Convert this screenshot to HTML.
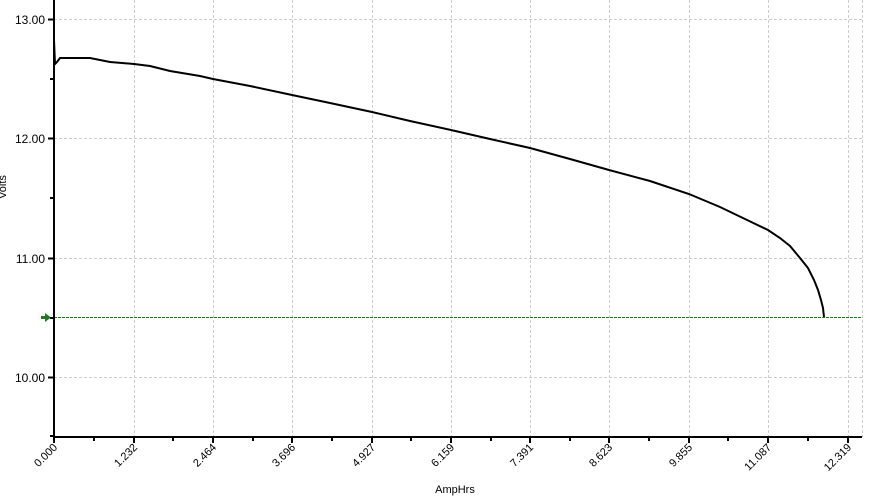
<!DOCTYPE html><html><head><style>body{margin:0;background:#fff}svg{display:block;font-family:"Liberation Sans",sans-serif}</style></head><body>
<svg width="869" height="496" xmlns="http://www.w3.org/2000/svg">
<g stroke="#ccc" stroke-dasharray="3,2" stroke-width="1">
<line x1="54" y1="19.5" x2="862" y2="19.5"/><line x1="54" y1="138.5" x2="862" y2="138.5"/><line x1="54" y1="258.5" x2="862" y2="258.5"/><line x1="54" y1="377.5" x2="862" y2="377.5"/>
<line x1="134.5" y1="0" x2="134.5" y2="437"/><line x1="213.5" y1="0" x2="213.5" y2="437"/><line x1="292.5" y1="0" x2="292.5" y2="437"/><line x1="372.5" y1="0" x2="372.5" y2="437"/><line x1="451.5" y1="0" x2="451.5" y2="437"/><line x1="530.5" y1="0" x2="530.5" y2="437"/><line x1="609.5" y1="0" x2="609.5" y2="437"/><line x1="689.5" y1="0" x2="689.5" y2="437"/><line x1="768.5" y1="0" x2="768.5" y2="437"/><line x1="848.5" y1="0" x2="848.5" y2="437"/><line x1="862.5" y1="0" x2="862.5" y2="437"/>
</g>
<line x1="54" y1="317.5" x2="862" y2="317.5" stroke="#1f7a1f" stroke-dasharray="3,1"/>
<polygon points="45,313 51,317.5 45,322" fill="#1f7a1f"/><line x1="41" y1="317.5" x2="47" y2="317.5" stroke="#1f7a1f" stroke-width="3"/>
<g stroke="#000" stroke-width="2">
<line x1="54" y1="0" x2="54" y2="438"/><line x1="53" y1="437" x2="862" y2="437"/>
<line x1="48" y1="19.5" x2="54" y2="19.5"/><line x1="50" y1="79" x2="54" y2="79"/><line x1="48" y1="138.5" x2="54" y2="138.5"/><line x1="50" y1="198" x2="54" y2="198"/><line x1="48" y1="258.5" x2="54" y2="258.5"/><line x1="50" y1="318" x2="54" y2="318"/><line x1="48" y1="377.5" x2="54" y2="377.5"/><line x1="50" y1="436" x2="54" y2="436"/>
<line x1="54" y1="437" x2="54" y2="443"/><line x1="94" y1="437" x2="94" y2="441"/><line x1="134" y1="437" x2="134" y2="443"/><line x1="173" y1="437" x2="173" y2="441"/><line x1="213" y1="437" x2="213" y2="443"/><line x1="253" y1="437" x2="253" y2="441"/><line x1="292" y1="437" x2="292" y2="443"/><line x1="332" y1="437" x2="332" y2="441"/><line x1="372" y1="437" x2="372" y2="443"/><line x1="411" y1="437" x2="411" y2="441"/><line x1="451" y1="437" x2="451" y2="443"/><line x1="491" y1="437" x2="491" y2="441"/><line x1="530" y1="437" x2="530" y2="443"/><line x1="570" y1="437" x2="570" y2="441"/><line x1="609" y1="437" x2="609" y2="443"/><line x1="649" y1="437" x2="649" y2="441"/><line x1="689" y1="437" x2="689" y2="443"/><line x1="728" y1="437" x2="728" y2="441"/><line x1="768" y1="437" x2="768" y2="443"/><line x1="808" y1="437" x2="808" y2="441"/><line x1="848" y1="437" x2="848" y2="443"/>
</g>
<polyline fill="none" stroke="#000" stroke-width="2" points="54,40 55,64 57,62 60,58 75,58 90,58 100,60 110,62 134,64 150,66 170,71 200,76 213,79 250,86 292,95 330,103 372,112 410,121 451,130 490,139 530,148 570,159 609,170 650,181 689,194 720,207 745,219 768,230 780,238 790,246 800,258 808,268 814,280 818,290 821,300 823,308 824,317"/>
<g font-size="12" fill="#000" text-anchor="end">
<text x="45" y="24">13.00</text><text x="45" y="143">12.00</text><text x="45" y="263">11.00</text><text x="45" y="382">10.00</text>
</g>
<g font-size="11" fill="#000" text-anchor="end">
<text transform="translate(58,448) rotate(-45)">0.000</text>
<text transform="translate(138,448) rotate(-45)">1.232</text>
<text transform="translate(217,448) rotate(-45)">2.464</text>
<text transform="translate(296,448) rotate(-45)">3.696</text>
<text transform="translate(376,448) rotate(-45)">4.927</text>
<text transform="translate(455,448) rotate(-45)">6.159</text>
<text transform="translate(534,448) rotate(-45)">7.391</text>
<text transform="translate(613,448) rotate(-45)">8.623</text>
<text transform="translate(693,448) rotate(-45)">9.855</text>
<text transform="translate(772,448) rotate(-45)">11.087</text>
<text transform="translate(852,448) rotate(-45)">12.319</text>
</g>
<text x="455" y="493" font-size="11" text-anchor="middle">AmpHrs</text>
<text transform="translate(6,187) rotate(-90)" font-size="11" text-anchor="middle">Volts</text>
</svg></body></html>
